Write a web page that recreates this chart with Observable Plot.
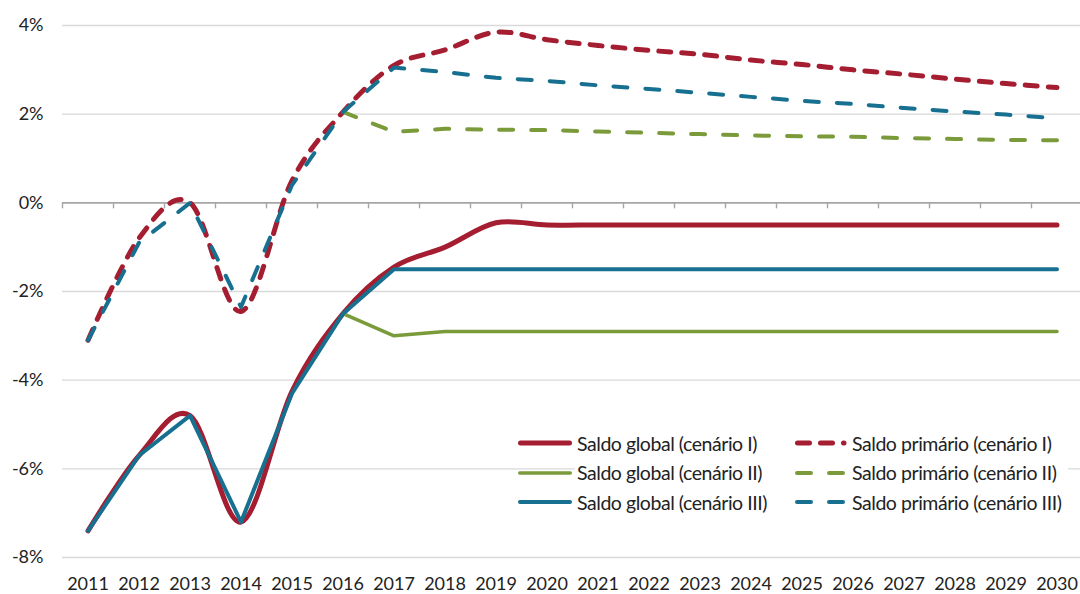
<!DOCTYPE html>
<html>
<head>
<meta charset="utf-8">
<script src="https://cdn.jsdelivr.net/npm/d3@7"></script>
<script src="https://cdn.jsdelivr.net/npm/@observablehq/plot@0.6"></script>
<style>
  body { margin: 0; background: #fff; }
  #chart { position: relative; width: 1080px; height: 594px; font-family: Lato, "Noto Sans", sans-serif; color: #222; }
  #legend-box { position: absolute; left: 575px; top: 427px; width: 493px; height: 88px; background: #fff; }
  .item { position: absolute; height: 30px; display: flex; align-items: center; font-size: 19.5px; letter-spacing: -0.45px; white-space: nowrap; }
  .item svg { flex: none; }
</style>
</head>
<body>
<div id="chart"></div>
<script>
// Years on the horizontal axis
const years = [2011, 2012, 2013, 2014, 2015, 2016, 2017, 2018, 2019, 2020,
               2021, 2022, 2023, 2024, 2025, 2026, 2027, 2028, 2029, 2030];

// Saldo global (% do PIB)
const globalI   = [-7.4, -5.7, -4.8, -7.2, -4.25, -2.5, -1.45, -1.0, -0.45, -0.5,
                   -0.5, -0.5, -0.5, -0.5, -0.5, -0.5, -0.5, -0.5, -0.5, -0.5];
const globalII  = [null, null, null, null, null, -2.5, -3.0, -2.9, -2.9, -2.9,
                   -2.9, -2.9, -2.9, -2.9, -2.9, -2.9, -2.9, -2.9, -2.9, -2.9];
const globalIII = [-7.4, -5.7, -4.8, -7.2, -4.3, -2.5, -1.5, -1.5, -1.5, -1.5,
                   -1.5, -1.5, -1.5, -1.5, -1.5, -1.5, -1.5, -1.5, -1.5, -1.5];

// Saldo primário (% do PIB)
const primI   = [-3.1, -0.8, 0.0, -2.45, 0.5, 2.05, 3.1, 3.45, 3.85, 3.68,
                 3.55, 3.44, 3.35, 3.22, 3.12, 3.0, 2.9, 2.79, 2.69, 2.6];
const primII  = [null, null, null, null, null, 2.05, 1.6, 1.67, 1.65, 1.64,
                 1.61, 1.58, 1.55, 1.52, 1.5, 1.49, 1.46, 1.44, 1.42, 1.41];
const primIII = [-3.1, -0.9, 0.0, -2.35, 0.4, 2.05, 3.05, 2.95, 2.82, 2.75,
                 2.65, 2.57, 2.48, 2.39, 2.3, 2.23, 2.14, 2.06, 1.99, 1.91];

const yTicks = [-8, -6, -4, -2, 0, 2, 4];

const red = "#a51d30", green = "#7b9b3b", blue = "#17708f";

const series = [
  {name: "Saldo global (cenário I)",     values: globalI,   color: red,   width: 5,   dash: null,    smooth: true},
  {name: "Saldo global (cenário II)",    values: globalII,  color: green, width: 3.5, dash: null,    smooth: false},
  {name: "Saldo global (cenário III)",   values: globalIII, color: blue,  width: 4,   dash: null,    smooth: false},
  {name: "Saldo primário (cenário I)",   values: primI,     color: red,   width: 5,   dash: "12,11", smooth: true},
  {name: "Saldo primário (cenário II)",  values: primII,    color: green, width: 4,   dash: "14,18", smooth: false},
  {name: "Saldo primário (cenário III)", values: primIII,   color: blue,  width: 4,   dash: "14,18", smooth: false}
];

const rowsOf = s => years.map((year, i) => ({year, value: s.values[i]})).filter(d => d.value != null);

// Category boundaries for the small ticks hanging under the zero line
const boundaries = d3.range(years.length + 1).map(i => years[0] - 0.5 + i);

const W = 1080, H = 594, mLeft = 62, mTop = 25, mBottom = 37;
const bandWidth = 51;
const yPerPx = (yTicks[yTicks.length - 1] - yTicks[0]) / (H - mTop - mBottom);
const tickDepth = 6 * yPerPx;

const chart = Plot.plot({
  width: W,
  height: H,
  marginLeft: mLeft,
  marginRight: 0,
  marginTop: mTop,
  marginBottom: mBottom,
  style: {fontFamily: "Lato, 'Noto Sans', sans-serif", fontSize: "18px", color: "#222", background: "#fff"},
  x: {type: "linear", domain: [boundaries[0], boundaries[boundaries.length - 1]],
      range: [mLeft, mLeft + bandWidth * years.length]},
  y: {domain: [yTicks[0], yTicks[yTicks.length - 1]]},
  marks: [
    Plot.ruleY(yTicks.filter(t => t !== 0), {stroke: "#d9d9d9", strokeWidth: 1.4}),
    Plot.ruleY([0], {stroke: "#a6a6a6", strokeWidth: 1.6}),
    Plot.ruleX(boundaries, {x: d => d, y1: 0, y2: -tickDepth, stroke: "#a6a6a6", strokeWidth: 1.4}),
    Plot.axisY({ticks: yTicks, tickFormat: d => `${d}%`, tickSize: 0, tickPadding: 19, fontSize: 18, label: null}),
    Plot.axisX({ticks: years, tickFormat: d => String(d), tickSize: 0, tickPadding: 20, fontSize: 18, label: null}),
    ...series.map(s => Plot.line(rowsOf(s), {
      x: "year", y: "value",
      stroke: s.color, strokeWidth: s.width,
      strokeDasharray: s.dash ?? undefined,
      strokeLinecap: "round", strokeLinejoin: "round",
      curve: s.smooth ? d3.curveCardinal.tension(0) : "linear"
    }))
  ]
});

const root = document.getElementById("chart");
root.appendChild(chart);

// Legend: two columns, three rows, partly over a white box
const box = document.createElement("div");
box.id = "legend-box";
root.appendChild(box);
const colLeft = [513, 790];
const svgWidth = [62, 60];
const rowTop = [428, 457.5, 487];
series.forEach((s, i) => {
  const col = Math.floor(i / 3), row = i % 3;
  const item = document.createElement("div");
  item.className = "item";
  item.style.left = colLeft[col] + "px";
  item.style.top = rowTop[row] + "px";
  const sw = svgWidth[col];
  const x1 = 5 + s.width / 2;
  const x2 = s.dash ? x1 + 46.5 : sw - 3 - s.width / 2;
  item.innerHTML =
    `<svg width="${sw}" height="12"><line x1="${x1}" x2="${x2}" y1="6" y2="6" stroke="${s.color}"
      stroke-width="${s.width}" stroke-linecap="round" ${s.dash ? `stroke-dasharray="${s.dash}"` : ""}/></svg>` +
    `<span style="margin-left:2px">${s.name}</span>`;
  root.appendChild(item);
});
</script>
</body>
</html>
